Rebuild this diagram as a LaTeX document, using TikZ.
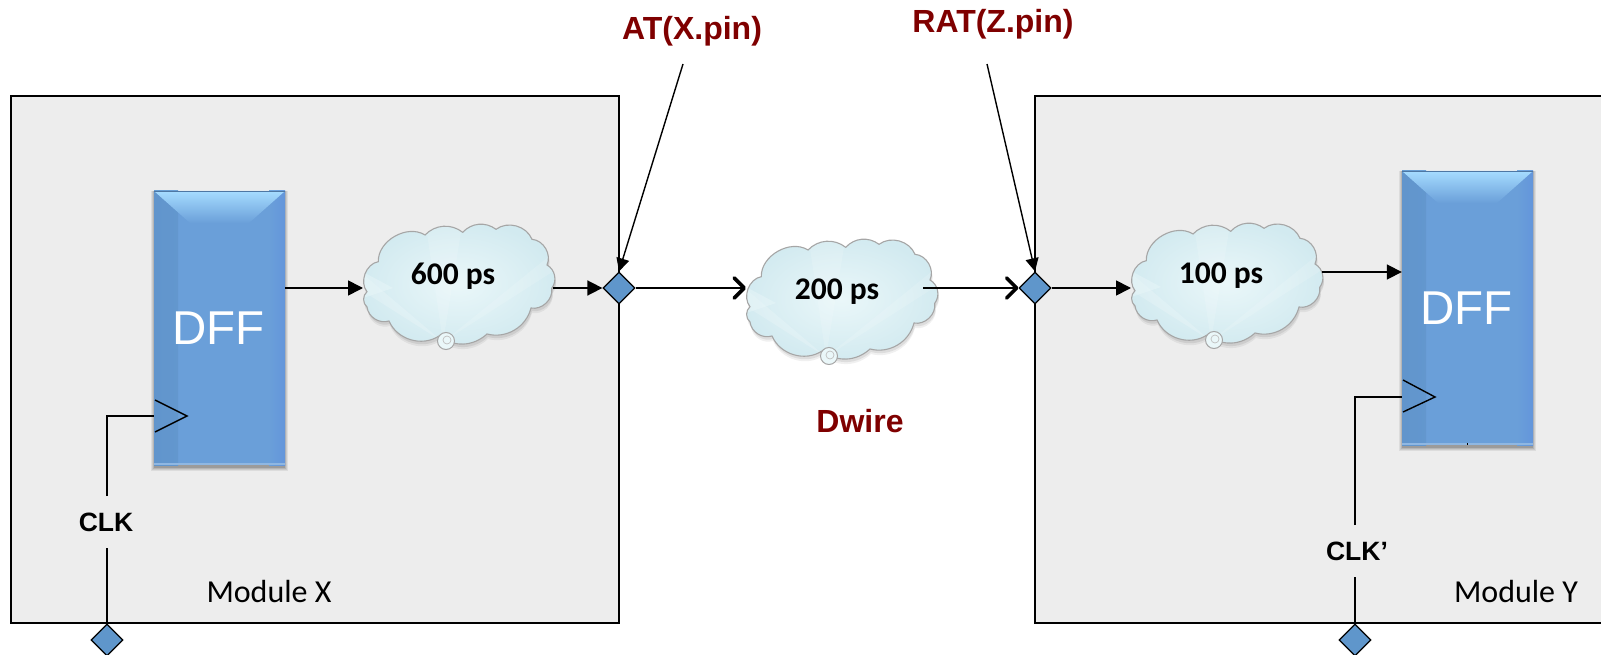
\documentclass[tikz,border=0pt]{standalone}
\usepackage{fontspec}
\setmainfont{Liberation Sans}
\newfontfamily\calib{Carlito}
\usetikzlibrary{arrows.meta,shapes.geometric,calc}
\definecolor{modfill}{HTML}{EDEDED}
\definecolor{dffblue}{HTML}{6A9FD9}
\definecolor{dffedge}{HTML}{6195CC}
\definecolor{dfftop}{HTML}{A6DCFF}
\definecolor{pinblue}{HTML}{5F96CB}
\definecolor{darkred}{HTML}{7F0000}
\definecolor{cloudlight}{HTML}{EAF7F9}
\definecolor{cloudmid}{HTML}{D2EAF0}
\newcommand{\fs}[1]{\fontsize{#1}{#1}\selectfont}
\tikzset{
  x=1pt,y=-1pt,
  wire/.style={line width=1.7pt,black},
  thinwire/.style={line width=1.4pt,black},
  filled/.style={wire,-{Triangle[length=15pt,width=15pt]}},
  filledthin/.style={thinwire,-{Triangle[length=13pt,width=13pt]}},
  openarr/.style={wire,-{Straight Barb[length=10pt,width=20pt,line width=3.6pt,round]}},
  pinnode/.style={diamond,draw=black,line width=1.3pt,fill=pinblue,minimum width=32pt,minimum height=32pt,inner sep=0pt},
  modline/.style={line width=1.7pt,black,fill=modfill},
  dffbox/.style={rectangle,minimum width=131pt,minimum height=274pt,inner sep=0pt,fill=dffblue,text=white,font=\fs{47.5},
    path picture={
      \shade[left color=dffedge,right color=dffblue] (path picture bounding box.north west) rectangle ($(path picture bounding box.south west)+(24pt,0)$);
      \shade[left color=dffblue,right color=dffblue!94!blue] ($(path picture bounding box.north east)+(-16pt,0)$) rectangle (path picture bounding box.south east);
      \shade[top color=dfftop,bottom color=dffblue]
        (path picture bounding box.north west) -- (path picture bounding box.north east)
        -- ($(path picture bounding box.north east)+(-36pt,-32pt)$) -- ($(path picture bounding box.north west)+(36pt,-32pt)$) -- cycle;
      \fill[dffedge!80!black] (path picture bounding box.north west) rectangle ($(path picture bounding box.north east)+(0,-1.5pt)$);
      \fill[dffblue!75!white] ($(path picture bounding box.south west)+(0,2pt)$) rectangle (path picture bounding box.south east);
    }},
  lbl/.style={font=\fs{26.5}\bfseries,text=black,inner sep=0pt},
  redlbl/.style={font=\fs{32}\bfseries,text=darkred,inner sep=0pt},
  modlbl/.style={font=\calib\fs{32},text=black,inner sep=0pt},
  cloudlbl/.style={font=\calib\fs{31.5}\bfseries,text=black,inner sep=0pt},
  cloudpic/.pic={
    \def\cloudpath{(4,11.7) to[bend left=60] (15.3,-18.3) to[bend left=62] (62,-45)
      to[bend left=42] (99.7,-47.7) to[bend left=42] (133,-50.7) to[bend left=52] (169,-40.7)
      to[bend left=55] (184,-15) to[bend left=50] (188.7,8.3) to[bend left=55] (168,28)
      to[bend left=45] (124,54) to[bend left=40] (76,56) to[bend left=50] (26,41)
      to[bend left=50] (4,27) to[bend left=50] (4,11.7) -- cycle}
    \fill[black,opacity=.06,shift={(1,5)}] \cloudpath;
    \fill[black,opacity=.08,shift={(1,3)}] \cloudpath;
    \path[inner color=cloudlight,outer color=cloudmid] \cloudpath;
    \begin{scope}
      \clip \cloudpath;
      \fill[white,opacity=.14] (80,62) -- (62,-60) -- (100,-60) -- cycle;
      \fill[white,opacity=.18] (80,62) -- (-5,-10) -- (-5,8) -- cycle;
      \fill[white,opacity=.14] (80,62) -- (200,-35) -- (200,-15) -- cycle;
      \fill[cloudlight,opacity=.45] (0,18) -- (30,8) -- (0,-8) -- cycle;
    \end{scope}
    \draw[gray!70,line width=1.1pt] \cloudpath;
    \draw[gray!70,line width=1pt,fill=cloudlight] (83,61) circle (8.5);
    \draw[gray!50,line width=.7pt] (84,60) circle (4);
  }
}
\newcommand{\shadowfor}[4]{%
  \foreach \g/\o in {4/.07,3/.08,2/.10,1/.14}{%
    \fill[black,opacity=\o] (#1-\g+1,#2) rectangle (#3+\g-1,#4+\g+2);}}
\begin{document}
\begin{tikzpicture}
\useasboundingbox (0,0) rectangle (1601,655);
% modules
\draw[modline] (11,96) rectangle (619,623);
\fill[modfill] (1035,96) rectangle (1601,623);
\draw[modline,fill=none] (1601,96) -- (1035,96) -- (1035,623) -- (1601,623);
% flip-flops
\shadowfor{154}{191}{285}{465}
\shadowfor{1402}{171}{1533}{445}
\node[dffbox] (dff1) at (219.5,328) {\hspace{-2pt}\raisebox{-4pt}{DFF}};
\node[dffbox] (dff2) at (1467.5,308) {\hspace{-2pt}\raisebox{-4pt}{DFF}};
\draw[line width=1pt,black] (1467,443) -- (1467,445);
% clouds
\pic (c1) at (363,280) {cloudpic};
\pic (c2) at (746,295) {cloudpic};
\pic (c3) at (1131,279) {cloudpic};
\node[cloudlbl] (t1) at (453,276) {600 ps};
\node[cloudlbl] (t2) at (837,292) {200 ps};
\node[cloudlbl] (t3) at (1221,276) {100 ps};
% pins
\node[pinnode] (p1) at (619,288) {};
\node[pinnode] (p2) at (1035,288) {};
\node[pinnode] (ck1) at (107,640) {};
\node[pinnode] (ck2) at (1355,640) {};
% labels
\node[redlbl] (at) at (692,31) {AT(X.pin)};
\node[redlbl] (rat) at (993,24) {RAT(Z.pin)};
\node[redlbl] (dw) at (860,421) {Dwire};
\node[lbl] (clk1) at (106,522) {CLK};
\node[lbl] (clk2) at (1357,551) {CLK’};
\node[modlbl] (mx) at (269,592) {Module X};
\node[modlbl] (my) at (1516,592) {Module Y};
% connectors
\coordinate (c1in) at (363,288);
\coordinate (c1out) at (553,288);
\coordinate (c2in) at (746,288);
\coordinate (c2out) at (923,288);
\coordinate (c3in) at (1131,288);
\coordinate (c3out) at (1322,272);
\coordinate (d1o) at (dff1.east|-c1in);
\coordinate (d2i) at (dff2.west|-c3out);
\draw[filled] (d1o) -- (c1in);
\draw[filled] (c1out) -- (p1.west);
\draw[openarr] (p1.east) -- (c2in);
\draw[openarr] (c2out) -- (p2.west);
\draw[filled] (p2.east) -- (c3in);
\draw[filled] (c3out) -- (d2i);
\coordinate (ata) at (683,64);
\coordinate (ratb) at (987,64);
\draw[filledthin] (ata) -- (p1.north);
\draw[filledthin] (ratb) -- (p2.north);
% clock
\coordinate (k1a) at (dff1.west|-0,416);
\coordinate (k2a) at (dff2.west|-0,397);
\coordinate (k1u) at (107,496);
\coordinate (k1l) at (107,548);
\coordinate (k2u) at (1355,525);
\coordinate (k2l) at (1355,577);
\draw[thinwire] (k1u) |- (k1a);
\draw[thinwire] (ck1.north) -- (k1l);
\draw[thinwire] (155,400) -- (187,416) -- (155,432);
\draw[thinwire] (k2u) |- (k2a);
\draw[thinwire] (ck2.north) -- (k2l);
\draw[thinwire] (1403,380) -- (1435,397) -- (1403,412);
\end{tikzpicture}
\end{document}
